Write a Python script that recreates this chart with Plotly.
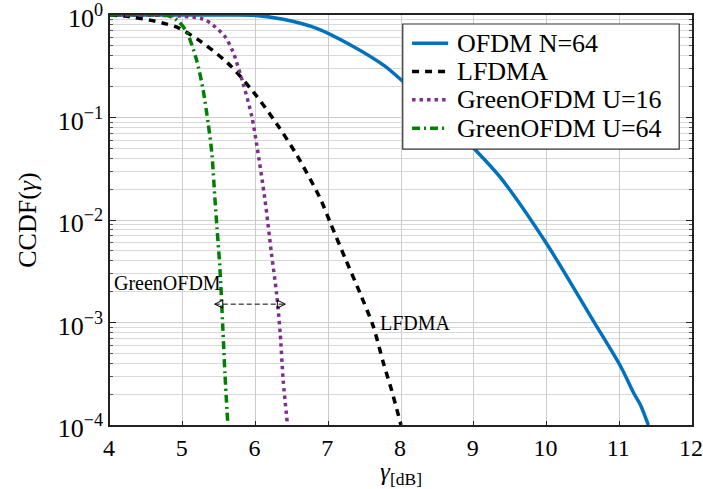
import math
import plotly.graph_objects as go

# ---- data ----
ofdm_x = [4, 5, 5.5, 6, 6.38, 6.84, 7.3, 7.76, 8.0, 8.5, 9, 9.36, 10, 10.65, 11.02, 11.2, 11.29, 11.4]
ofdm_y = [1, 1, 0.998, 0.991, 0.908, 0.741, 0.513, 0.324, 0.234, 0.115, 0.0501, 0.0263,
          0.00589, 0.00102, 0.000372, 0.000204, 0.000158, 0.0001]

lfdma_x = [4, 4.2, 4.55, 4.73, 4.92, 5.21, 5.62, 5.97, 6.29, 6.57, 6.89, 7.03, 7.23,
           7.44, 7.62, 7.76, 7.87, 8.0]
lfdma_y = [1, 0.975, 0.891, 0.832, 0.762, 0.575, 0.339, 0.178, 0.0871, 0.0427, 0.0162,
           0.00933, 0.00427, 0.00191, 0.000912, 0.000398, 0.000219, 0.0001]

g16_x = [4, 4.96, 5.28, 5.42, 5.58, 5.69, 5.83, 5.95, 6.02, 6.13, 6.22, 6.29, 6.34, 6.38, 6.44]
g16_y = [1, 0.977, 0.912, 0.794, 0.617, 0.437, 0.214, 0.102, 0.0525, 0.0158, 0.00468,
         0.00191, 0.000776, 0.000275, 0.0001]

g64_x = [4, 4.8, 4.92, 5.05, 5.19, 5.28, 5.35, 5.40, 5.44, 5.47, 5.51, 5.55, 5.58, 5.62]
g64_y = [1, 0.98, 0.891, 0.692, 0.363, 0.186, 0.0871, 0.0447, 0.0170, 0.00851,
         0.00347, 0.000912, 0.000316, 0.0001]

series_names = ["OFDM N=64", "LFDMA", "GreenOFDM U=16", "GreenOFDM U=64"]
series_colors = ["#0072BD", "black", "#7E2F8E", "#008000"]
series_dash = ["solid", "7px,6px", "3.5px,4px", "8px,4px,2px,4px"]

x_ticks = [4, 5, 6, 7, 8, 9, 10, 11, 12]
y_ticks = [1e-4, 1e-3, 1e-2, 1e-1, 1]
y_ticktext = ["10<sup>−4</sup>", "10<sup>−3</sup>", "10<sup>−2</sup>",
              "10<sup>−1</sup>", "10<sup>0</sup>"]
y_minor = [k * 10.0 ** e for e in (-4, -3, -2, -1) for k in range(2, 10)]

arrow_x = [5.44, 6.41]
arrow_y = [0.00151, 0.00151]
ann_green = (4.03, 0.00243, "GreenOFDM")
ann_lfdma = (7.69, 0.00098, "LFDMA")

FONT = "'Liberation Serif', 'DejaVu Serif', serif"

fig = go.Figure()
for xs, ys, name, col, dash in zip([ofdm_x, lfdma_x, g16_x, g64_x],
                                   [ofdm_y, lfdma_y, g16_y, g64_y],
                                   series_names, series_colors, series_dash):
    fig.add_trace(go.Scatter(x=xs, y=ys, mode="lines", name=name, showlegend=False,
                             line=dict(color=col, width=3.5, dash=dash,
                                       shape="spline", smoothing=0.8)))

# dashed double arrow
fig.add_trace(go.Scatter(x=arrow_x, y=arrow_y, mode="lines+markers", showlegend=False,
                         line=dict(color="black", width=1, dash="5px,3px"),
                         marker=dict(symbol=["arrow-left-open", "arrow-right-open"],
                                     size=8, color="black", line=dict(width=1, color="black")),
                         hoverinfo="skip"))

for ax_, ay_, txt in (ann_green, ann_lfdma):
    fig.add_annotation(x=ax_, y=math.log10(ay_), text=txt, showarrow=False,
                       xanchor="left", yanchor="middle",
                       font=dict(family=FONT, size=20, color="black"))

# custom legend (box, sample lines, labels) in paper coordinates
leg_x0, leg_x1, leg_y0, leg_y1 = 0.503, 0.978, 0.673, 0.978
fig.add_shape(type="rect", xref="paper", yref="paper", x0=leg_x0, x1=leg_x1,
              y0=leg_y0, y1=leg_y1, line=dict(color="#333333", width=1.2),
              fillcolor="white", layer="above")
row_y = [0.931, 0.862, 0.793, 0.724]
for ry, name, col, dash in zip(row_y, series_names, series_colors, series_dash):
    fig.add_shape(type="line", xref="paper", yref="paper", x0=0.519, x1=0.581,
                  y0=ry, y1=ry, line=dict(color=col, width=3.5, dash=dash), layer="above")
    fig.add_annotation(xref="paper", yref="paper", x=0.592, y=ry, text=name,
                       showarrow=False, xanchor="left", yanchor="middle",
                       font=dict(family=FONT, size=26, color="black"))

fig.update_layout(
    width=703, height=489,
    margin=dict(l=110, r=11, t=15, b=64),
    paper_bgcolor="white", plot_bgcolor="white",
    font=dict(family=FONT, size=26, color="black"),
    showlegend=False,
)
fig.update_xaxes(range=[4, 12], tickvals=x_ticks, ticktext=[str(v) for v in x_ticks],
                 showgrid=True, gridcolor="#cccccc", gridwidth=1, automargin=False,
                 showline=True, linecolor="#222222", linewidth=1.5, mirror=True,
                 ticks="inside", ticklen=4, tickcolor="#222222", zeroline=False,
                 ticklabeloverflow="allow", ticklabelshift=-1,
                 tickfont=dict(family=FONT, size=24),
                 title=dict(text="<i>γ</i><sub>[dB]</sub>", font=dict(family=FONT, size=25), standoff=0))
fig.update_yaxes(type="log", range=[-4, 0], tickvals=y_ticks, ticktext=y_ticktext,
                 showgrid=True, gridcolor="#cccccc", gridwidth=1, automargin=False,
                 showline=True, linecolor="#222222", linewidth=1.5, mirror="ticks",
                 ticks="inside", ticklen=6, tickcolor="#222222", zeroline=False,
                 ticklabeloverflow="allow", ticklabelshift=3,
                 tickfont=dict(family=FONT, size=26),
                 minor=dict(tickvals=y_minor, showgrid=True, gridcolor="#d9d9d9",
                            ticks="inside", ticklen=3, tickcolor="#555555"),
                 title=dict(text="CCDF(<i>γ</i>)", font=dict(family=FONT, size=26), standoff=14))

fig.write_html("out.html")
